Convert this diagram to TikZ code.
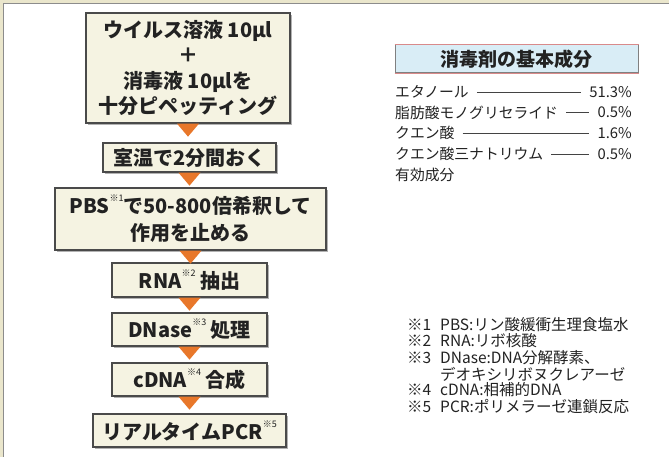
\documentclass[tikz,border=0pt]{standalone}
\usepackage{fontspec}
\setmainfont{Noto Sans CJK JP}
\usetikzlibrary{shadows}
\definecolor{boxfill}{HTML}{F5F3E2}
\definecolor{boxline}{HTML}{4A4A4A}
\definecolor{arr}{HTML}{E8772A}
\definecolor{frameout}{HTML}{EAE6CC}
\definecolor{titlefill}{HTML}{D9EDF6}
\definecolor{titleline}{HTML}{D98A8A}
\definecolor{ink}{HTML}{222222}
\newcommand\mysup[1]{\raisebox{0.6em}{\fontsize{9}{9}\selectfont\mdseries ※#1}}
\begin{document}
\begin{tikzpicture}[x=1pt,y=-1pt,
  stepbox/.style={draw=boxline, line width=1.3pt, fill=boxfill, text=ink, align=center, inner sep=0pt,
     font=\bfseries\fontsize{20}{25.5}\selectfont,
     drop shadow={shadow xshift=2pt, shadow yshift=-2pt, fill=black!50, opacity=0.6}},
  lab/.style={inner sep=0pt, text=ink, font=\fontsize{14.8}{16}\selectfont},
  fn/.style={inner sep=0pt, text=ink, anchor=west, font=\fontsize{15.5}{16}\selectfont},
  dashline/.style={draw=ink!85, line width=0.7pt},
  arrtri/.style={fill=arr}
]
\useasboundingbox (0,0) rectangle (669,457);
\fill[frameout] (0,0) rectangle (669,457);
\fill[white] (3,3) rectangle (669,457);
\draw[black!45, line width=0.8pt] (3,457) -- (3,3) -- (669,3);

% flow boxes
\node[stepbox, minimum width=204pt, minimum height=110pt] (b1) at (188,68)
  {ウイルス溶液 10μl\\＋\\消毒液 10μlを\\十分ピペッティング};
\node[stepbox, minimum width=173pt, minimum height=29pt] (b2) at (189.5,157.5) {室温で2分間おく};
\node[stepbox, minimum width=271pt, minimum height=62pt, font=\bfseries\fontsize{20}{27}\selectfont] (b3) at (190.5,219)
  {PBS\mysup{1}で50-800倍希釈して\\作用を止める};
\node[stepbox, minimum width=155pt, minimum height=34pt] (b4) at (189.5,280) {RNA\mysup{2} 抽出};
\node[stepbox, minimum width=155pt, minimum height=33pt] (b5) at (189.5,329.5) {DNase\mysup{3} 処理};
\node[stepbox, minimum width=155pt, minimum height=33pt] (b6) at (189.5,379.5) {cDNA\mysup{4} 合成};
\node[stepbox, minimum width=193pt, minimum height=33pt] (b7) at (189.5,430.5) {リアルタイムPCR\mysup{5}};

% arrows
\foreach \a in {b1,b2,b3,b4,b5,b6}{
  \fill[arrtri] ([xshift=-11pt]\a.south) -- ([xshift=11pt]\a.south) -- ([yshift=-13pt]\a.south) -- cycle;
}

% title box
\node[fill=titlefill, draw=black!50, line width=1pt, minimum width=243pt, minimum height=28pt, inner sep=0pt,
  text=ink, font=\bfseries\fontsize{19}{19}\selectfont] (t) at (516.5,59) {消毒剤の基本成分};
\draw[titleline, line width=1pt] (t.north west) -- (t.north east);
\draw[titleline, line width=1pt] (t.south west) -- (t.south east);

% component list
\node[lab, anchor=west] (l1) at (395,92) {エタノール};
\node[lab, anchor=east] (v1) at (632,92) {51.3\%};
\node[lab, anchor=west] (l2) at (395,112.5) {脂肪酸モノグリセライド};
\node[lab, anchor=east] (v2) at (632,112.5) {0.5\%};
\node[lab, anchor=west] (l3) at (395,133) {クエン酸};
\node[lab, anchor=east] (v3) at (632,133) {1.6\%};
\node[lab, anchor=west] (l4) at (395,154) {クエン酸三ナトリウム};
\node[lab, anchor=east] (v4) at (632,154) {0.5\%};
\node[lab, anchor=west] (l5) at (395,175) {有効成分};
\draw[dashline] ([xshift=8pt]l1.east) -- ([xshift=-8pt]v1.west);
\draw[dashline] ([xshift=8pt]l2.east) -- ([xshift=-8pt]v2.west);
\draw[dashline] ([xshift=8pt]l3.east) -- ([xshift=-8pt]v3.west);
\draw[dashline] ([xshift=8pt]l4.east) -- ([xshift=-8pt]v4.west);

% footnotes
\node[fn] (n1) at (407,325) {※1};
\node[fn] (f1) at (440,325) {PBS:リン酸緩衝生理食塩水};
\node[fn] (n2) at (407,341) {※2};
\node[fn] (f2) at (440,341) {RNA:リボ核酸};
\node[fn] (n3) at (407,358) {※3};
\node[fn] (f3) at (440,358) {DNase:DNA分解酵素、};
\node[fn] (f3b) at (440,374) {デオキシリボヌクレアーゼ};
\node[fn] (n4) at (407,390) {※4};
\node[fn] (f4) at (440,390) {cDNA:相補的DNA};
\node[fn] (n5) at (407,407) {※5};
\node[fn] (f5) at (440,407) {PCR:ポリメラーゼ連鎖反応};
\end{tikzpicture}
\end{document}
